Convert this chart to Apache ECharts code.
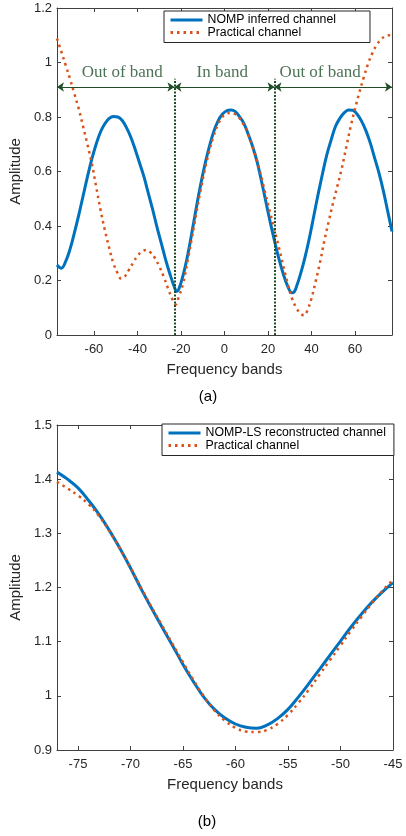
<!DOCTYPE html>
<html><head><meta charset="utf-8">
<script src="https://cdn.jsdelivr.net/npm/echarts@6/dist/echarts.min.js"></script>
<style>html,body{margin:0;padding:0;background:#fff}#c{width:406px;height:836px}</style>
</head><body><div id="c"></div>
<script>
// ---------- Panel (a) data ----------
const freqNompA = [-77,-75,-73,-71,-69,-67,-65,-63,-61,-59,-57,-55,-53,-51,-49,-47,-45,-43,-41,-39,-37,-35,-33,-31,-29,-27,-25,-23,-22,-21,-19,-17,-15,-13,-11,-9,-7,-5,-3,-1,1,3,5,7,9,11,13,15,17,19,21,23,25,27,29,31,32,33,35,37,39,41,43,45,47,49,51,53,55,57,59,61,63,65,67,69,71,73,75,77];
const nompA = [0.257,0.245,0.27,0.315,0.375,0.44,0.51,0.58,0.645,0.70,0.745,0.775,0.795,0.802,0.80,0.787,0.76,0.725,0.68,0.63,0.58,0.52,0.46,0.395,0.335,0.275,0.222,0.175,0.16,0.168,0.22,0.29,0.375,0.465,0.55,0.625,0.69,0.745,0.785,0.81,0.823,0.826,0.82,0.80,0.775,0.735,0.69,0.635,0.565,0.49,0.415,0.345,0.28,0.225,0.18,0.155,0.158,0.175,0.225,0.285,0.355,0.435,0.515,0.59,0.66,0.715,0.765,0.795,0.815,0.826,0.825,0.81,0.785,0.75,0.705,0.65,0.595,0.53,0.455,0.38];
const freqPracA = [-77,-75,-73,-71,-69,-67,-65,-63,-61,-59,-57,-55,-53,-51,-49,-47.5,-46,-44,-42,-40,-38,-36,-34,-32,-30,-28,-26,-24,-22.5,-21,-19,-17,-15,-13,-11,-9,-7,-5,-3,-1,1,3,5,7,9,11,13,15,17,19,21,23,25,27,29,31,33,35,36.7,38,40,42,44,46,48,50,52,54,56,58,60,62,64,66,68,70,72,74,75.5,77];
const pracA = [1.088,1.04,0.99,0.94,0.885,0.83,0.765,0.70,0.63,0.545,0.46,0.385,0.32,0.262,0.225,0.207,0.213,0.238,0.265,0.29,0.306,0.312,0.303,0.283,0.252,0.215,0.172,0.132,0.112,0.14,0.19,0.27,0.355,0.445,0.53,0.608,0.675,0.73,0.772,0.80,0.812,0.815,0.81,0.795,0.77,0.735,0.69,0.64,0.578,0.513,0.448,0.385,0.322,0.255,0.19,0.135,0.1,0.078,0.072,0.088,0.135,0.2,0.27,0.35,0.42,0.487,0.55,0.615,0.69,0.765,0.83,0.89,0.945,0.995,1.035,1.065,1.085,1.097,1.1,1.093];
const xTicksA = [-60,-40,-20,0,20,40,60];
const yTicksA = [0,0.2,0.4,0.6,0.8,1,1.2];
const bandEdges = [-23, 23];
const bandLabels = ['Out of band','In band','Out of band'];
const bandLabelX = [-47, -1, 44];
const bandArrowSegs = [[-77,-23],[-23,23],[23,77]];
const bandArrowY = 0.91;
const bandLineTop = 0.94;
const bandLabelY = 0.965;

// ---------- Panel (b) data ----------
const freqB = [-77,-76,-75,-74,-73,-72,-71,-70,-69,-68,-67,-66,-65,-64,-63,-62,-61,-60,-59,-58,-57,-56,-55,-54,-53,-52,-51,-50,-49,-48,-47,-46,-45];
const nompLsB = [1.413,1.400,1.384,1.361,1.335,1.305,1.272,1.236,1.198,1.162,1.127,1.093,1.058,1.026,0.997,0.975,0.959,0.948,0.942,0.940,0.946,0.958,0.975,0.998,1.023,1.049,1.075,1.101,1.127,1.151,1.173,1.192,1.209];
const pracB = [1.395,1.383,1.370,1.354,1.332,1.304,1.272,1.237,1.200,1.164,1.130,1.096,1.062,1.029,0.999,0.973,0.954,0.941,0.934,0.933,0.937,0.948,0.965,0.987,1.012,1.039,1.066,1.093,1.120,1.146,1.171,1.194,1.214];
const xTicksB = [-75,-70,-65,-60,-55,-50,-45];
const yTicksB = [0.9,1,1.1,1.2,1.3,1.4,1.5];

const zip = (xs, ys) => xs.map((x, i) => [x, ys[i]]);
const AX = '#404040', TXT = '#262626', FONT = 'Liberation Sans, Arial, sans-serif';
const BLUE = '#0072BD', ORANGE = '#D95319', GREEN = '#1f4d27', GTEXT = '#1f4f2b';

function xAx(grid, min, max, ticks, pos, main) {
  return {
    type: 'value', gridIndex: grid, min, max, position: pos,
    name: main ? 'Frequency bands' : '', nameLocation: 'middle', nameGap: 27,
    nameTextStyle: {fontSize: 15, color: TXT, fontFamily: FONT},
    axisLine: {show: true, onZero: false, lineStyle: {color: AX, width: 1}},
    axisTick: {show: true, inside: true, length: 4, customValues: ticks, lineStyle: {color: AX}},
    axisLabel: {show: main, customValues: ticks, color: TXT, fontSize: 13, fontFamily: FONT, margin: 8},
    splitLine: {show: false}
  };
}
function yAx(grid, min, max, ticks, pos, main) {
  return {
    type: 'value', gridIndex: grid, min, max, position: pos,
    name: main ? 'Amplitude' : '', nameLocation: 'middle', nameGap: 28,
    nameTextStyle: {fontSize: 15, color: TXT, fontFamily: FONT},
    axisLine: {show: true, onZero: false, lineStyle: {color: AX, width: 1}},
    axisTick: {show: true, inside: true, length: 4, customValues: ticks, lineStyle: {color: AX}},
    axisLabel: {show: main, customValues: ticks, color: TXT, fontSize: 13, fontFamily: FONT, margin: 5},
    splitLine: {show: false}
  };
}

const chart = echarts.init(document.getElementById('c'));
const legendCommon = {
  orient: 'vertical', itemWidth: 32, itemHeight: 14, itemGap: 0.5,
  borderColor: '#262626', borderWidth: 1, backgroundColor: '#fff',
  textStyle: {fontSize: 12.3, color: '#000', fontFamily: FONT},
  itemStyle: {opacity: 0},
  lineStyle: {width: 3},
  selectedMode: false, z: 10
};
chart.setOption({
  animation: false,
  grid: [
    {left: 50, top: 8, width: 342, height: 327},
    {left: 50, top: 425, width: 343, height: 325}
  ],
  xAxis: [
    xAx(0, -77, 77, xTicksA, 'bottom', true),
    xAx(0, -77, 77, xTicksA, 'top', false),
    xAx(1, -77, -45, xTicksB, 'bottom', true),
    xAx(1, -77, -45, xTicksB, 'top', false)
  ],
  yAxis: [
    yAx(0, 0, 1.2, yTicksA, 'left', true),
    yAx(0, 0, 1.2, yTicksA, 'right', false),
    yAx(1, 0.9, 1.5, yTicksB, 'left', true),
    yAx(1, 0.9, 1.5, yTicksB, 'right', false)
  ],
  legend: [
    Object.assign({}, legendCommon, {data: ['NOMP inferred channel', 'Practical channel'], left: 164, top: 11, padding: [3, 34, 4, 5]}),
    Object.assign({}, legendCommon, {data: ['NOMP-LS reconstructed channel', 'Practical channel'], left: 162, top: 424, padding: [3, 8, 4, 5]})
  ],
  series: [
    {
      type: 'line', name: 'NOMP inferred channel', xAxisIndex: 0, yAxisIndex: 0,
      data: zip(freqNompA, nompA), symbol: 'none', smooth: 0.4, z: 2,
      lineStyle: {color: BLUE, width: 3}, itemStyle: {color: BLUE}
    },
    {
      type: 'line', name: 'Practical channel', xAxisIndex: 0, yAxisIndex: 0,
      data: zip(freqPracA, pracA), symbol: 'none', smooth: 0.4, z: 3,
      lineStyle: {color: ORANGE, width: 2.5, type: [2.5, 4]}, itemStyle: {color: ORANGE},
      markLine: {
        silent: true, symbol: 'none', label: {show: false}, animation: false,
        lineStyle: {color: GREEN, width: 2, type: [2, 1.5]},
        data: bandEdges.map(b => [{coord: [b, 0]}, {coord: [b, bandLineTop]}])
      }
    },
    {
      type: 'line', name: 'arrows', xAxisIndex: 0, yAxisIndex: 0,
      data: zip(freqNompA, nompA), symbol: 'none', z: 4,
      lineStyle: {opacity: 0}, itemStyle: {opacity: 0},
      markLine: {
        silent: true, symbol: ['arrow', 'arrow'], symbolSize: 7, label: {show: false}, animation: false,
        lineStyle: {color: GREEN, width: 1.2, type: 'solid', opacity: 1},
        data: bandArrowSegs.map(s => [{coord: [s[0], bandArrowY]}, {coord: [s[1], bandArrowY]}])
      }
    },
    {
      type: 'scatter', name: 'bandText', xAxisIndex: 0, yAxisIndex: 0,
      data: bandLabelX.map(x => [x, bandLabelY]), symbolSize: 1,
      itemStyle: {color: 'rgba(0,0,0,0)'}, z: 5,
      label: {show: true, position: 'inside', formatter: p => bandLabels[p.dataIndex],
        fontFamily: 'Liberation Serif, Times New Roman, serif', fontSize: 17, color: GTEXT}
    },
    {
      type: 'line', name: 'NOMP-LS reconstructed channel', xAxisIndex: 2, yAxisIndex: 2,
      data: zip(freqB, nompLsB), symbol: 'none', smooth: 0.4, z: 2,
      lineStyle: {color: BLUE, width: 3}, itemStyle: {color: BLUE}
    },
    {
      type: 'line', name: 'Practical channel', xAxisIndex: 2, yAxisIndex: 2,
      data: zip(freqB, pracB), symbol: 'none', smooth: 0.4, z: 3,
      lineStyle: {color: ORANGE, width: 2.5, type: [2.5, 4]}, itemStyle: {color: ORANGE}
    }
  ],
  graphic: [
    {type: 'text', x: 208, y: 397, style: {text: '(a)', font: '15px ' + FONT, fill: '#000', align: 'center', verticalAlign: 'middle'}},
    {type: 'text', x: 207, y: 822, style: {text: '(b)', font: '15px ' + FONT, fill: '#000', align: 'center', verticalAlign: 'middle'}}
  ]
});
</script></body></html>
